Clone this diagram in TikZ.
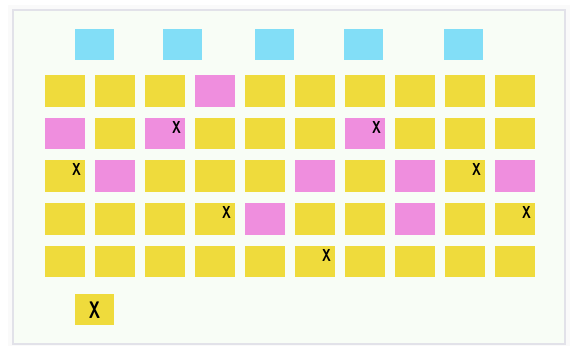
\documentclass[tikz,border=0pt]{standalone}
\usepackage{tikz}
\usetikzlibrary{positioning}
\definecolor{seatyellow}{HTML}{EFDB3C}
\definecolor{seatpink}{HTML}{EF8EDE}
\definecolor{seatblue}{HTML}{82DEF7}
\definecolor{panelbg}{HTML}{F8FDF6}
\definecolor{panelrim}{HTML}{E2E2E9}
\begin{document}
\begin{tikzpicture}[x=0.75pt,y=-0.75pt,
  taken/.style={font=\sffamily\bfseries\fontsize{13}{13}\selectfont,inner sep=0pt,xscale=0.7},
  bigtaken/.style={font=\sffamily\bfseries\fontsize{18}{18}\selectfont,inner sep=0pt,xscale=0.65}]
  \useasboundingbox (0,0) rectangle (571,346);
  \fill[black!2] (8,5) rectangle (570,346);
  \draw[panelrim,line width=1.5pt,fill=panelbg] (13,10) rectangle (565,344);
  % top row
  \foreach \x in {75,163,255,344,444}
    \fill[seatblue] (\x,29) rectangle ++(39,31);
  % grid
  \foreach \r in {0,...,4}
    \foreach \c in {0,...,9}
      \fill[seatyellow] ({45+50*\c},{75+42.7*\r}) rectangle ++(39.5,31.5);
  \foreach \c/\r in {3/0,0/1,2/1,6/1,1/2,5/2,7/2,9/2,4/3,7/3}
    \fill[seatpink] ({45+50*\c},{75+42.7*\r}) rectangle ++(39.5,31.5);
  \foreach \c/\r [count=\k] in {2/1,6/1,0/2,8/2,3/3,9/3,5/4}
    \node[taken] (x\k) at ({45+50*\c+31.5},{75+42.7*\r+9.5}) {X};
  % spare
  \fill[seatyellow] (75,293.5) rectangle ++(39,31);
  \node[bigtaken] (xspare) at (94.5,310) {X};
\end{tikzpicture}
\end{document}
